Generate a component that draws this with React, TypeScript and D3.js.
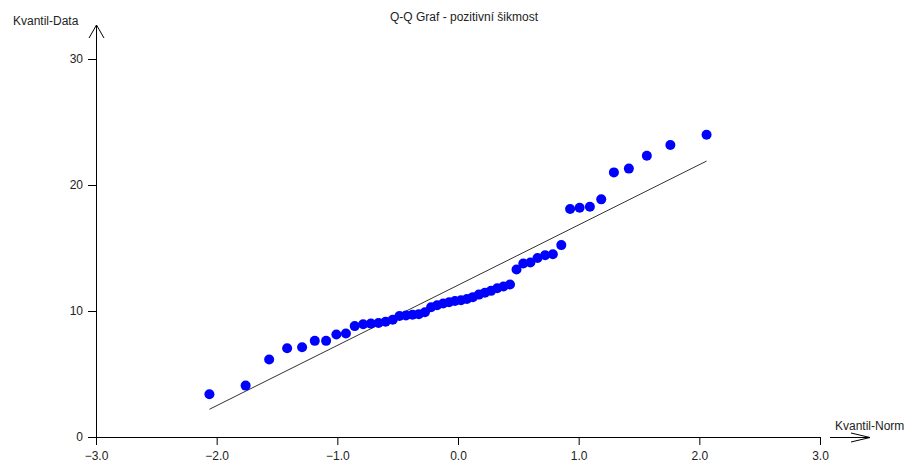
import React, { useRef, useEffect } from 'react';
import * as d3 from 'd3';

// theoretical normal quantiles (x)
const normQuantiles = [
  -2.06, -1.76, -1.565, -1.416, -1.292, -1.187, -1.093, -1.008, -0.929, -0.856,
  -0.786, -0.722, -0.659, -0.6, -0.541, -0.485, -0.431, -0.377, -0.325, -0.274,
  -0.223, -0.173, -0.123, -0.074, -0.025, 0.025, 0.074, 0.123, 0.173, 0.223,
  0.274, 0.325, 0.377, 0.431, 0.485, 0.541, 0.6, 0.659, 0.722, 0.786,
  0.856, 0.929, 1.008, 1.093, 1.187, 1.292, 1.416, 1.565, 1.76, 2.06,
];

// sorted sample values (y)
const dataQuantiles = [
  3.39, 4.08, 6.15, 7.05, 7.12, 7.63, 7.63, 8.13, 8.21, 8.8,
  8.95, 9.0, 9.05, 9.15, 9.3, 9.6, 9.65, 9.7, 9.75, 9.9,
  10.3, 10.45, 10.6, 10.7, 10.8, 10.85, 10.95, 11.1, 11.3, 11.45,
  11.6, 11.8, 11.95, 12.1, 13.3, 13.77, 13.85, 14.2, 14.43, 14.5,
  15.23, 18.1, 18.2, 18.27, 18.86, 21.0, 21.3, 22.32, 23.17, 23.99,
];

// reference line endpoints
const refLineX = [-2.06, 2.06];
const refLineY = [2.2, 21.9];

const xTicks = [-3, -2, -1, 0, 1, 2, 3];
const yTicks = [0, 10, 20, 30];

const title = 'Q-Q Graf - pozitivní šikmost';
const xLabel = 'Kvantil-Norm';
const yLabel = 'Kvantil-Data';

const W = 909;
const H = 464;

export default function App() {
  const ref = useRef<SVGSVGElement>(null);

  useEffect(() => {
    document.body.style.margin = '0';
    const svg = d3.select(ref.current);
    svg.selectAll('*').remove();

    const x = d3.scaleLinear().domain([-3, 3]).range([96, 820]);
    const y = d3.scaleLinear().domain([0, 30]).range([437, 59]);
    const font = 'Liberation Sans, Arial, sans-serif';
    const ink = '#222';

    // title + axis labels
    svg.append('text')
      .attr('x', 464).attr('y', 21)
      .attr('text-anchor', 'middle')
      .attr('font-family', font).attr('font-size', 12).attr('fill', ink)
      .text(title);
    svg.append('text')
      .attr('x', 13).attr('y', 25)
      .attr('font-family', font).attr('font-size', 12).attr('fill', ink)
      .text(yLabel);
    svg.append('text')
      .attr('x', 835).attr('y', 430)
      .attr('font-family', font).attr('font-size', 12).attr('fill', ink)
      .text(xLabel);

    // axes
    const xAxis = svg.append('g')
      .attr('transform', `translate(0,${y(0)})`)
      .call(d3.axisBottom(x).tickValues(xTicks).tickSize(8).tickPadding(6).tickFormat(d3.format('.1f')));
    xAxis.select('.domain').remove();
    xAxis.selectAll('text').attr('font-family', font).attr('font-size', 12).attr('fill', ink);

    const yAxis = svg.append('g')
      .attr('transform', `translate(${x(-3)},0)`)
      .call(d3.axisLeft(y).tickValues(yTicks).tickSize(8).tickPadding(5).tickFormat(d3.format('d')));
    yAxis.select('.domain').remove();
    yAxis.selectAll('text').attr('font-family', font).attr('font-size', 12).attr('fill', ink);

    const axisLines = svg.append('g').attr('stroke', '#000').attr('fill', 'none').attr('stroke-width', 1);
    axisLines.append('line')
      .attr('x1', x(-3) - 8).attr('x2', x(3))
      .attr('y1', y(0) + 0.5).attr('y2', y(0) + 0.5);
    axisLines.append('line')
      .attr('x1', x(-3) + 0.5).attr('x2', x(-3) + 0.5)
      .attr('y1', y(0) + 8).attr('y2', 25);
    // y arrow
    axisLines.append('path')
      .attr('d', `M${x(-3) - 7},38 L${x(-3) + 0.5},25 L${x(-3) + 8},38`);
    // x arrow
    axisLines.append('path')
      .attr('d', `M830,${y(0) + 0.5} L870,${y(0) + 0.5} M851,433 L870,${y(0) + 0.5} L851,442`);

    // reference line
    svg.append('line')
      .attr('x1', x(refLineX[0])).attr('y1', y(refLineY[0]))
      .attr('x2', x(refLineX[1])).attr('y2', y(refLineY[1]))
      .attr('stroke', '#333').attr('stroke-width', 1);

    // points
    svg.append('g')
      .selectAll('circle')
      .data(normQuantiles.map((q, i) => [q, dataQuantiles[i]]))
      .enter()
      .append('circle')
      .attr('cx', d => x(d[0]))
      .attr('cy', d => y(d[1]))
      .attr('r', 5)
      .attr('fill', '#0000ff');
  }, []);

  return <svg ref={ref} width={W} height={H} style={{ display: 'block', background: '#fff' }} />;
}
